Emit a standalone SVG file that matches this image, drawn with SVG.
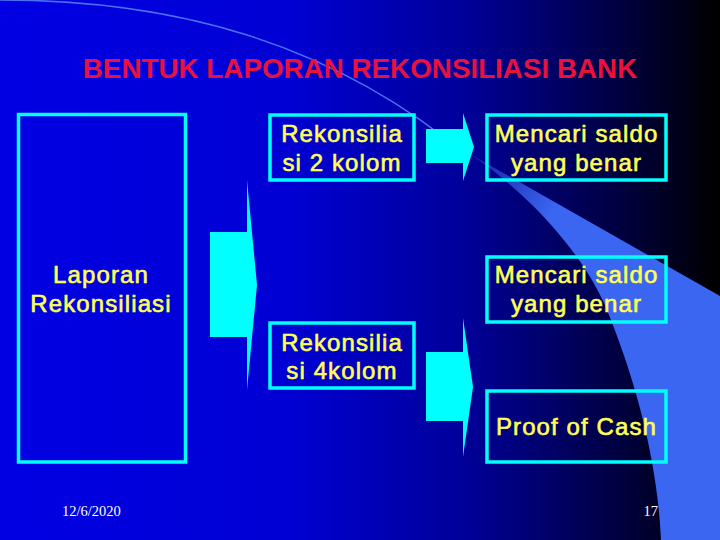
<svg xmlns="http://www.w3.org/2000/svg" width="720" height="540" viewBox="0 0 720 540">
  <defs>
    <linearGradient id="bg" x1="0" y1="0" x2="1" y2="0">
      <stop offset="0" stop-color="#0000e4"/>
      <stop offset="0.4" stop-color="#0000d4"/>
      <stop offset="0.65" stop-color="#000098"/>
      <stop offset="0.85" stop-color="#000045"/>
      <stop offset="1" stop-color="#000000"/>
    </linearGradient>
    <linearGradient id="wedge" gradientUnits="userSpaceOnUse" x1="470" y1="155" x2="600" y2="260">
      <stop offset="0" stop-color="#3b66f2" stop-opacity="0.3"/>
      <stop offset="0.6" stop-color="#3b66f2" stop-opacity="1"/>
      <stop offset="1" stop-color="#3b66f2" stop-opacity="1"/>
    </linearGradient>
  </defs>
  <style>
    .box { fill: none; stroke: #00ffff; stroke-width: 3.5; }
    .lbl { font-family: "Liberation Sans", Arial, sans-serif; font-size: 24px; letter-spacing: 1.1px; fill: #ffff55; stroke: #ffff55; stroke-width: 0.6; text-anchor: middle; }
    .title { font-family: "Liberation Sans", Arial, sans-serif; font-size: 27.8px; font-weight: bold; fill: #e8123c; text-anchor: middle; }
    .foot { font-family: "Liberation Serif", "Times New Roman", serif; font-size: 14.5px; fill: #ffffff; }
    .arrow { fill: #00ffff; stroke: none; }
  </style>

  <!-- background -->
  <rect x="0" y="0" width="720" height="540" fill="url(#bg)"/>
  <path d="M 0 0 C 170 0, 330 40, 470 158" fill="none" stroke="#4a70f4" stroke-width="1.6"/>
  <path d="M 470 154 L 720 296 L 720 540 L 661 540 C 658 470, 640 390, 605 305 C 580 250, 530 195, 470 154 Z" fill="url(#wedge)"/>

  <!-- title -->
  <text class="title" x="360" y="78">BENTUK LAPORAN REKONSILIASI BANK</text>

  <!-- connectors -->
  <g id="connectors">
    <path class="arrow" d="M 210 232 L 247 232 L 247 180 L 257 285 L 247 390 L 247 337 L 210 337 Z"/>
    <path class="arrow" d="M 426 129 L 463 129 L 463 113 L 474 147 L 463 181 L 463 163 L 426 163 Z"/>
    <path class="arrow" d="M 426 352 L 463 352 L 463 318 L 473 387 L 463 457 L 463 421 L 426 421 Z"/>
  </g>

  <!-- nodes -->
  <g id="laporan">
    <rect class="box" x="18.5" y="114.5" width="167" height="347.5"/>
    <text class="lbl" x="101" y="283">Laporan</text>
    <text class="lbl" x="101" y="312">Rekonsiliasi</text>
  </g>
  <g id="rek2">
    <rect class="box" x="270" y="115" width="144" height="65"/>
    <text class="lbl" x="342" y="142">Rekonsilia</text>
    <text class="lbl" x="342" y="171">si 2 kolom</text>
  </g>
  <g id="rek4">
    <rect class="box" x="270" y="323" width="144" height="65"/>
    <text class="lbl" x="342" y="351">Rekonsilia</text>
    <text class="lbl" x="342" y="379">si 4kolom</text>
  </g>
  <g id="saldo1">
    <rect class="box" x="487" y="115" width="179" height="65"/>
    <text class="lbl" x="576.5" y="142">Mencari saldo</text>
    <text class="lbl" x="576.5" y="171">yang benar</text>
  </g>
  <g id="saldo2">
    <rect class="box" x="487" y="257" width="179" height="65"/>
    <text class="lbl" x="576.5" y="283">Mencari saldo</text>
    <text class="lbl" x="576.5" y="312">yang benar</text>
  </g>
  <g id="proof">
    <rect class="box" x="487" y="391" width="179" height="71"/>
    <text class="lbl" x="576.5" y="435">Proof of Cash</text>
  </g>

  <!-- footer -->
  <text class="foot" x="62" y="516">12/6/2020</text>
  <text class="foot" x="658" y="516" text-anchor="end">17</text>
</svg>
